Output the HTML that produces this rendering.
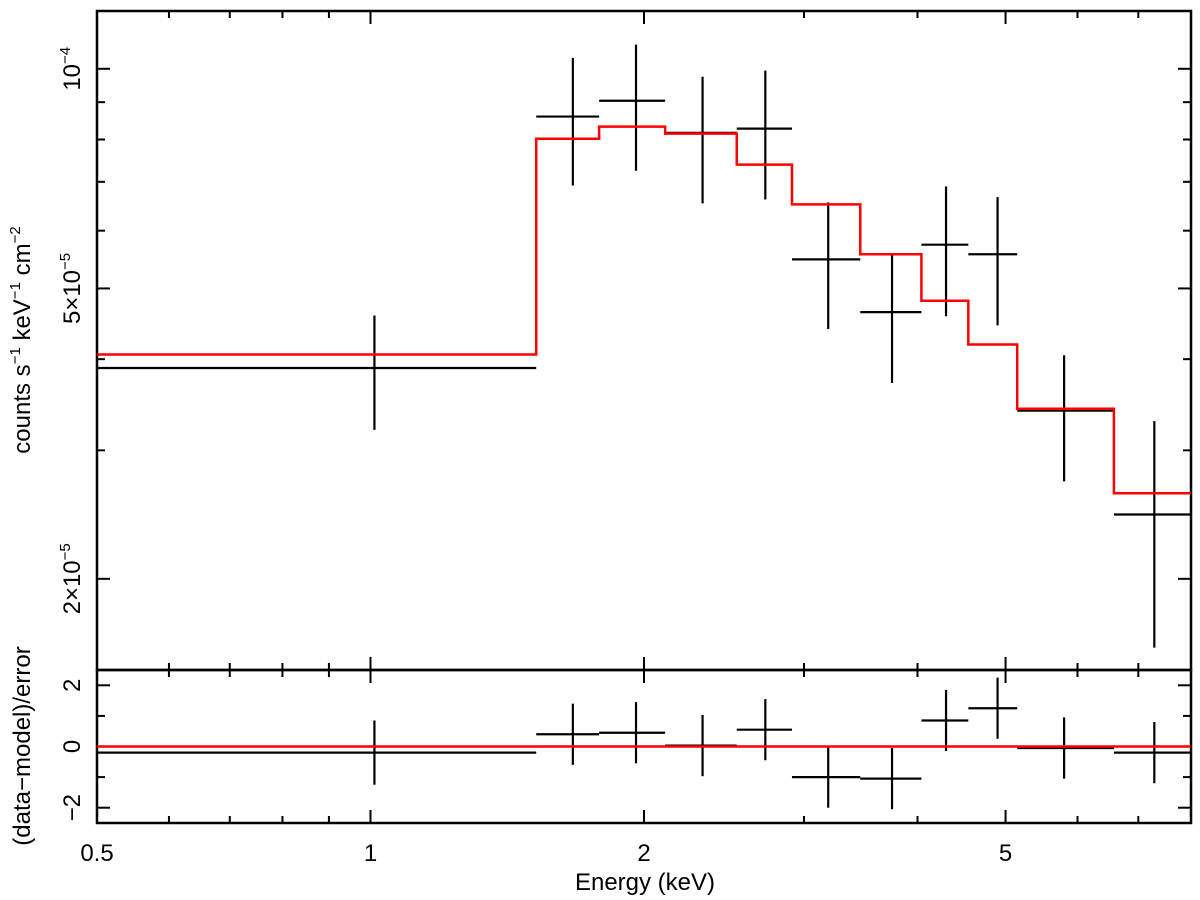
<!DOCTYPE html>
<html><head><meta charset="utf-8"><style>
html,body{margin:0;padding:0;background:#fff;}
svg{display:block;font-family:"Liberation Sans",Arial,sans-serif;}
</style></head><body>
<svg id="chart" width="1200" height="900" viewBox="0 0 1200 900" xmlns="http://www.w3.org/2000/svg"></svg>
<script>
const eLo  = [0.5, 1.522, 1.785, 2.11, 2.53, 2.91, 3.46, 4.04, 4.55, 5.15, 6.58];
const eHi  = [1.522, 1.785, 2.11, 2.53, 2.91, 3.46, 4.04, 4.55, 5.15, 6.58, 8.0];
const eCen = [1.01, 1.67, 1.96, 2.32, 2.72, 3.19, 3.75, 4.30, 4.90, 5.80, 7.29];
const flux    = [3.89e-5, 8.60e-5, 9.04e-5, 8.17e-5, 8.28e-5, 5.48e-5, 4.64e-5, 5.74e-5, 5.57e-5, 3.40e-5, 2.45e-5];
const fluxHi  = [4.59e-5, 1.035e-4, 1.079e-4, 9.75e-5, 9.94e-5, 6.56e-5, 5.55e-5, 6.90e-5, 6.67e-5, 4.05e-5, 3.29e-5];
const fluxLo  = [3.20e-5, 6.92e-5, 7.25e-5, 6.54e-5, 6.62e-5, 4.40e-5, 3.71e-5, 4.58e-5, 4.45e-5, 2.72e-5, 1.61e-5];
const model   = [4.06e-5, 8.02e-5, 8.33e-5, 8.15e-5, 7.39e-5, 6.52e-5, 5.57e-5, 4.81e-5, 4.19e-5, 3.42e-5, 2.62e-5];
const resid   = [-0.2, 0.4, 0.45, 0.03, 0.55, -1.0, -1.05, 0.85, 1.25, -0.05, -0.2];
const residErr= [1.05, 1, 1, 1, 1, 1, 1, 1, 1, 1, 1];
const xTickLabels = ["0.5","1","2","5"];
const xTickVals = [0.5,1,2,5];
const xMinor = [0.6,0.7,0.8,0.9,3,4,6,7];

const L=97,R=1191,T=11,M=670,B=823;
const xMin=0.5,xMax=8,yMin=1.5e-5,yMax=1.2e-4,rMin=-2.5,rMax=2.5;
const X=e=>L+(R-L)*Math.log(e/xMin)/Math.log(xMax/xMin);
const Y=v=>M-(M-T)*Math.log(v/yMin)/Math.log(yMax/yMin);
const RY=r=>B-(B-M)*(r-rMin)/(rMax-rMin);
const svg=document.getElementById('chart');
const NS='http://www.w3.org/2000/svg';
function mk(tag,attrs,parent){const el=document.createElementNS(NS,tag);for(const k in attrs)el.setAttribute(k,attrs[k]);(parent||svg).appendChild(el);return el;}
function line(x1,y1,x2,y2,stroke,w,parent){return mk('line',{x1,y1,x2,y2,stroke,'stroke-width':w},parent);}

let f1=mk('rect',{x:L,y:T,width:R-L,height:M-T,fill:'none',stroke:'#000','stroke-width':2.5});


let f2=mk('rect',{x:L,y:M,width:R-L,height:B-M,fill:'none',stroke:'#000','stroke-width':2.5});



const gx=mk('g',{});


xTickVals.forEach(v=>{const x=X(v);[[T,1],[M,1],[M,-1],[B,-1]].forEach(([y,d])=>line(x,y,x,y+d*13,'#000',2,gx));});
xMinor.forEach(v=>{const x=X(v);[[T,1],[M,1],[M,-1],[B,-1]].forEach(([y,d])=>line(x,y,x,y+d*7,'#000',2,gx));});
xTickVals.forEach((v,i)=>{const t=mk('text',{x:X(v),y:861,'font-size':24,'text-anchor':'middle'});t.textContent=xTickLabels[i];

});

const gy=mk('g',{});


const yMajor=[1e-4,5e-5,2e-5], yMinorV=[9e-5,8e-5,7e-5,6e-5,4e-5,3e-5];
yMajor.forEach(v=>{const y=Y(v);line(L,y,L+13,y,'#000',2,gy);line(R,y,R-13,y,'#000',2,gy);});
yMinorV.forEach(v=>{const y=Y(v);line(L,y,L+8,y,'#000',2,gy);line(R,y,R-8,y,'#000',2,gy);});
const yLab=[['10','−4',1e-4],['5×10','−5',5e-5],['2×10','−5',2e-5]];
yLab.forEach(([b,s,v])=>{const t=mk('text',{transform:`translate(80,${Y(v)}) rotate(-90)`,'font-size':24,'text-anchor':'middle'});
t.innerHTML=`${b}<tspan font-size="15" dy="-10">${s}</tspan>`;

});
[-2,-1,0,1,2].forEach(r=>{const y=RY(r),len=(r%2===0)?13:8;line(L,y,L+len,y,'#000',2,gy);line(R,y,R-len,y,'#000',2,gy);});
[-2,0,2].forEach(r=>{const t=mk('text',{transform:`translate(80,${RY(r)}) rotate(-90)`,'font-size':24,'text-anchor':'middle'});t.textContent=r<0?'−'+(-r):String(r);

});

let t1=mk('text',{transform:'translate(30,340) rotate(-90)','font-size':24,'text-anchor':'middle'});
t1.innerHTML='counts s<tspan font-size="15" dy="-10">−1</tspan><tspan dy="10"> keV</tspan><tspan font-size="15" dy="-10">−1</tspan><tspan dy="10"> cm</tspan><tspan font-size="15" dy="-10">−2</tspan>';


let t2=mk('text',{transform:'translate(30,746) rotate(-90)','font-size':24,'text-anchor':'middle'});
t2.textContent='(data−model)/error';


let t3=mk('text',{x:645,y:890,'font-size':24,'text-anchor':'middle'});
t3.textContent='Energy (keV)';



const gd=mk('g',{});


flux.forEach((v,i)=>{const g=mk('g',{},gd);


line(X(eLo[i]),Y(v),X(eHi[i]),Y(v),'#000',2.2,g);
line(X(eCen[i]),Y(fluxHi[i]),X(eCen[i]),Y(fluxLo[i]),'#000',2.2,g);});

let d='';
model.forEach((v,i)=>{d+=(i===0?'M':'L')+X(eLo[i])+','+Y(v)+' L'+X(eHi[i])+','+Y(v)+' ';});
let mp=mk('path',{d,fill:'none',stroke:'#ff0000','stroke-width':2.5});



const gr=mk('g',{});


resid.forEach((r,i)=>{const g=mk('g',{},gr);


line(X(eLo[i]),RY(r),X(eHi[i]),RY(r),'#000',2.2,g);
line(X(eCen[i]),RY(r+residErr[i]),X(eCen[i]),RY(r-residErr[i]),'#000',2.2,g);});
let zl=line(L,RY(0),R,RY(0),'#ff0000',2.5);


</script>
</body></html>
